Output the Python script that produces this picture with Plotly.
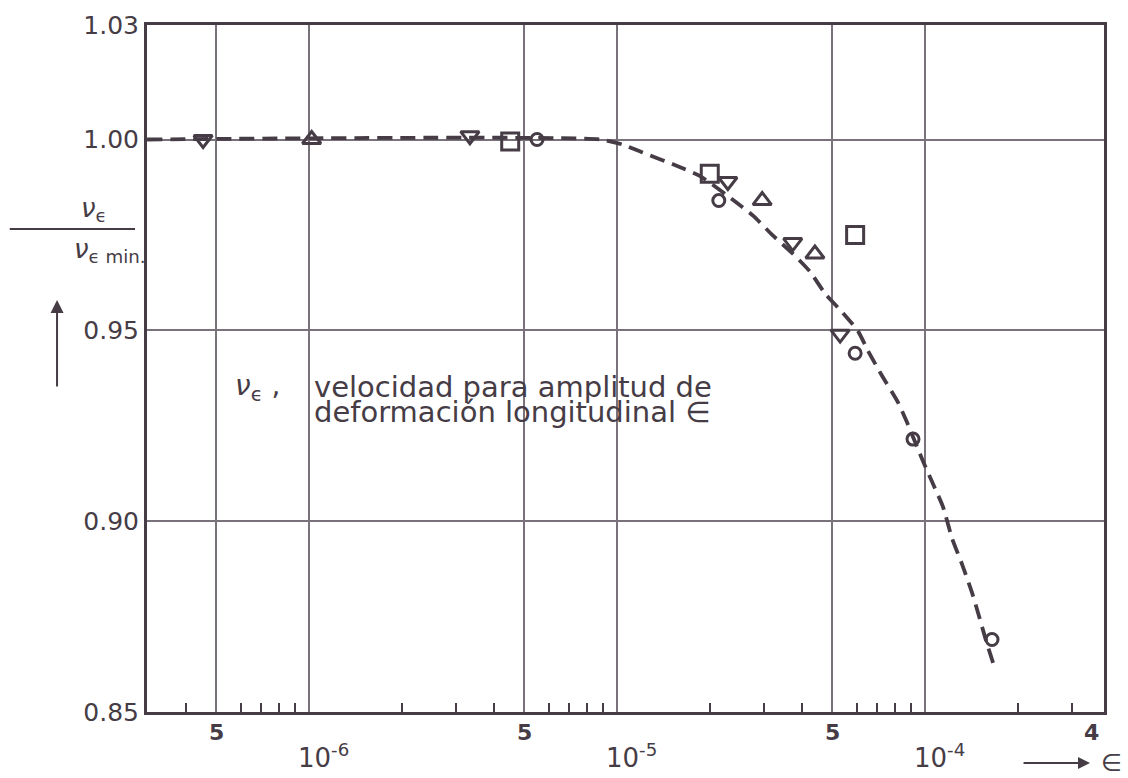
import math
import plotly.graph_objects as go

# Strain amplitude (epsilon) and normalised velocity for each symbol set
circle_eps = [5.5e-6, 2.14e-5, 5.93e-5, 9.14e-5, 1.65e-4]
circle_ratio = [1.000, 0.984, 0.944, 0.9215, 0.869]

square_eps = [4.5e-6, 2.0e-5, 5.93e-5]
square_ratio = [0.9995, 0.991, 0.975]

tri_up_eps = [1.02e-6, 2.96e-5, 4.39e-5]
tri_up_ratio = [1.000, 0.984, 0.970]

tri_down_eps = [4.53e-7, 3.33e-6, 2.29e-5, 3.72e-5, 5.3e-5]
tri_down_ratio = [1.000, 1.001, 0.989, 0.973, 0.949]

# Fitted trend (dashed)
curve_eps = [2.98e-7, 8.8e-6, 1.04e-5, 1.21e-5, 1.52e-5, 1.86e-5, 2.43e-5, 2.77e-5,
             3.21e-5, 3.72e-5, 4.23e-5, 4.73e-5, 5.42e-5, 6.06e-5, 6.53e-5, 7.25e-5,
             8.17e-5, 8.74e-5, 9.78e-5, 1.054e-4, 1.143e-4, 1.224e-4, 1.319e-4,
             1.432e-4, 1.578e-4, 1.664e-4]
curve_ratio = [1.000, 1.000, 0.9987, 0.9966, 0.9935, 0.9904, 0.9836, 0.9800,
               0.9748, 0.9701, 0.9654, 0.9597, 0.9545, 0.9498, 0.9446, 0.9381,
               0.9311, 0.9259, 0.9163, 0.9103, 0.9038, 0.8955, 0.8887,
               0.8804, 0.8687, 0.8628]

# Axis ticks
y_ticks = [0.85, 0.90, 0.95, 1.00, 1.03]
y_tick_text = ["0.85", "0.90", "0.95", "1.00", "1.03"]
x_grid = [5e-7, 1e-6, 5e-6, 1e-5, 5e-5, 1e-4]
x_minor = [4e-7, 6e-7, 7e-7, 8e-7, 9e-7,
           2e-6, 3e-6, 4e-6, 6e-6, 7e-6, 8e-6, 9e-6,
           2e-5, 3e-5, 4e-5, 6e-5, 7e-5, 8e-5, 9e-5,
           2e-4, 3e-4]
five_ticks = [5e-7, 5e-6, 5e-5]
five_text = ["5", "5", "5"]
decade_ticks = [1e-6, 1e-5, 1e-4]
decade_text = ["10<sup>-6</sup>", "10<sup>-5</sup>", "10<sup>-4</sup>"]

INK = "#463c46"
GRID = "#7a727a"
FONT = "DejaVu Sans, Liberation Sans, sans-serif"

fig = go.Figure()

fig.add_trace(go.Scatter(
    x=curve_eps, y=curve_ratio, mode="lines",
    line=dict(color=INK, width=3.8, dash="15px,8px", shape="spline", smoothing=0.6),
    hoverinfo="skip", showlegend=False))

marker_sets = [
    (circle_eps, circle_ratio, "circle-open", 12),
    (square_eps, square_ratio, "square-open", 17),
    (tri_up_eps, tri_up_ratio, "triangle-up-open", 16),
    (tri_down_eps, tri_down_ratio, "triangle-down-open", 16),
]
for xs, ys, sym, size in marker_sets:
    fig.add_trace(go.Scatter(
        x=xs, y=ys, mode="markers",
        marker=dict(symbol=sym, size=size, color=INK, line=dict(color=INK, width=3)),
        showlegend=False))

fig.update_xaxes(
    type="log", range=[-6.526, -3.419],
    tickmode="array", tickvals=x_grid, showticklabels=False, ticks="",
    showgrid=True, gridcolor=GRID, gridwidth=2,
    minor=dict(tickmode="array", tickvals=x_minor, ticks="inside", ticklen=9,
               tickwidth=2, tickcolor=INK, showgrid=False),
    showline=True, linecolor=INK, linewidth=3, mirror=True, zeroline=False)

fig.update_yaxes(
    range=[0.85, 1.03], tickmode="array", tickvals=y_ticks, ticktext=y_tick_text,
    tickfont=dict(family=FONT, size=25, color=INK), ticks="",
    showgrid=True, gridcolor=GRID, gridwidth=2,
    showline=True, linecolor=INK, linewidth=3, mirror=True, zeroline=False)

annotations = []
for xv, t in zip(five_ticks, five_text):
    annotations.append(dict(x=math.log10(xv), y=0, xref="x", yref="paper",
                            text="<b>" + t + "</b>", showarrow=False,
                            yanchor="middle", yshift=-20,
                            font=dict(family=FONT, size=22, color=INK)))
for xv, t in zip(decade_ticks, decade_text):
    annotations.append(dict(x=math.log10(xv), y=0, xref="x", yref="paper",
                            text=t, showarrow=False, yanchor="middle", yshift=-44,
                            xshift=14, font=dict(family=FONT, size=26, color=INK)))
annotations.append(dict(x=1, y=0, xref="paper", yref="paper", text="<b>4</b>",
                        showarrow=False, yanchor="middle", yshift=-20, xshift=-3,
                        font=dict(family=FONT, size=22, color=INK)))

# epsilon axis label with arrow
EPS_Y = -0.0742
annotations.append(dict(x=1.0209, y=EPS_Y, xref="paper", yref="paper", text="∈",
                        showarrow=False, xanchor="right", yanchor="middle",
                        font=dict(family=FONT, size=24, color=INK)))
annotations.append(dict(x=0.9854, y=EPS_Y, xref="paper", yref="paper", text="",
                        showarrow=True, ax=-68, ay=0, arrowhead=2, arrowsize=1.2,
                        arrowwidth=2, arrowcolor=INK))

# y title as a fraction with upward arrow
FRAC_Y = 0.703
annotations.append(dict(x=-0.071, y=FRAC_Y, xref="paper", yref="paper",
                        text="<i>ν</i><sub>ϵ</sub>", showarrow=False,
                        yanchor="bottom", yshift=1,
                        font=dict(family=FONT, size=26, color=INK)))
annotations.append(dict(x=-0.078, y=FRAC_Y, xref="paper", yref="paper",
                        text="<i>ν</i><sub>ϵ min.</sub>", showarrow=False,
                        yanchor="top", yshift=-3,
                        font=dict(family=FONT, size=26, color=INK)))
annotations.append(dict(x=-0.094, y=0.5997, xref="paper", yref="paper", text="",
                        showarrow=True, ax=0, ay=88, arrowhead=2, arrowsize=1.3,
                        arrowwidth=2, arrowcolor=INK))

# description in the plot area
LINE1_Y = 0.4730
LINE2_Y = 0.4370
annotations.append(dict(x=0.0899, y=LINE1_Y, xref="paper", yref="paper",
                        text="<i>ν</i><sub>ϵ</sub> ,", showarrow=False, xanchor="left",
                        font=dict(family=FONT, size=28, color=INK)))
annotations.append(dict(x=0.1725, y=LINE1_Y, xref="paper", yref="paper",
                        text="velocidad para amplitud de", showarrow=False,
                        xanchor="left", font=dict(family=FONT, size=29, color=INK)))
annotations.append(dict(x=0.1725, y=LINE2_Y, xref="paper", yref="paper",
                        text="deformación longitudinal ∈", showarrow=False,
                        xanchor="left", font=dict(family=FONT, size=29, color=INK)))

shapes = [dict(type="line", xref="paper", yref="paper",
               x0=-0.1434, x1=-0.0125, y0=FRAC_Y, y1=FRAC_Y,
               line=dict(color=INK, width=2))]

fig.update_layout(
    width=1128, height=778,
    margin=dict(l=147, r=24, t=25, b=66),
    paper_bgcolor="white", plot_bgcolor="white",
    annotations=annotations, shapes=shapes,
    font=dict(family=FONT, color=INK),
)

fig.write_html("out.html")
